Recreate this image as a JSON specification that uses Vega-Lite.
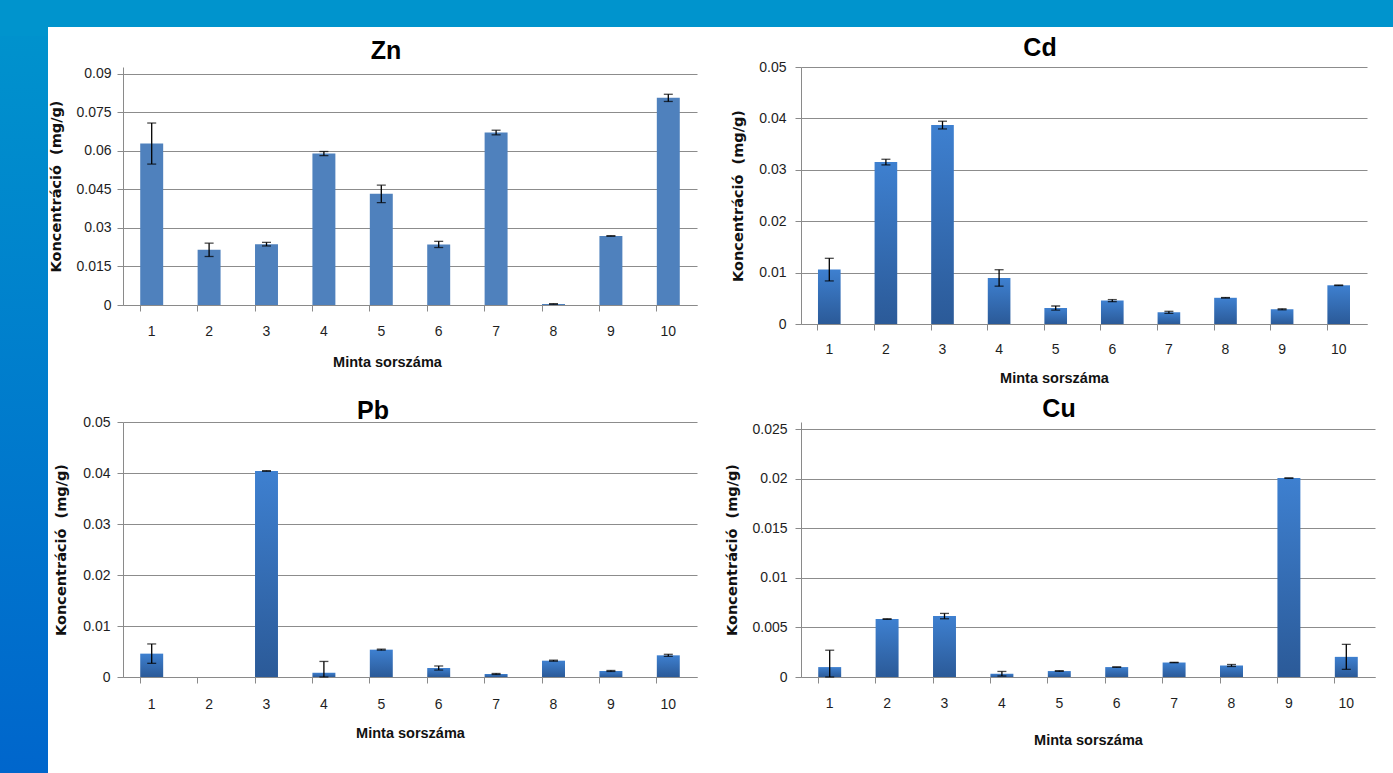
{
  "$schema": "https://vega.github.io/schema/vega-lite/v6.json",
  "padding": 0,
  "background": "white",
  "datasets": {
    "conc": [
      {"metal": "Zn", "n": 1, "v": 0.0629, "e": 0.008},
      {"metal": "Zn", "n": 2, "v": 0.0215, "e": 0.0026},
      {"metal": "Zn", "n": 3, "v": 0.0237, "e": 0.0007},
      {"metal": "Zn", "n": 4, "v": 0.059, "e": 0.0008},
      {"metal": "Zn", "n": 5, "v": 0.0433, "e": 0.0034},
      {"metal": "Zn", "n": 6, "v": 0.0236, "e": 0.0012},
      {"metal": "Zn", "n": 7, "v": 0.0672, "e": 0.0009},
      {"metal": "Zn", "n": 8, "v": 0.0004, "e": 0.0001},
      {"metal": "Zn", "n": 9, "v": 0.0269, "e": 0.0001},
      {"metal": "Zn", "n": 10, "v": 0.0807, "e": 0.0014},
      {"metal": "Cd", "n": 1, "v": 0.01058, "e": 0.0022},
      {"metal": "Cd", "n": 2, "v": 0.0315, "e": 0.00055},
      {"metal": "Cd", "n": 3, "v": 0.0387, "e": 0.00075},
      {"metal": "Cd", "n": 4, "v": 0.00896, "e": 0.0016},
      {"metal": "Cd", "n": 5, "v": 0.0031, "e": 0.0004},
      {"metal": "Cd", "n": 6, "v": 0.00455, "e": 0.0002},
      {"metal": "Cd", "n": 7, "v": 0.00227, "e": 0.0002},
      {"metal": "Cd", "n": 8, "v": 0.0051, "e": 0.00005},
      {"metal": "Cd", "n": 9, "v": 0.00286, "e": 0.0001},
      {"metal": "Cd", "n": 10, "v": 0.00753, "e": 0.00005},
      {"metal": "Pb", "n": 1, "v": 0.00458, "e": 0.0019},
      {"metal": "Pb", "n": 3, "v": 0.0404, "e": 0.00005},
      {"metal": "Pb", "n": 4, "v": 0.00085, "e": 0.0022},
      {"metal": "Pb", "n": 5, "v": 0.00536, "e": 0.0001},
      {"metal": "Pb", "n": 6, "v": 0.00176, "e": 0.0004},
      {"metal": "Pb", "n": 7, "v": 0.00059, "e": 0.0001},
      {"metal": "Pb", "n": 8, "v": 0.0032, "e": 0.0001},
      {"metal": "Pb", "n": 9, "v": 0.00118, "e": 0.0001},
      {"metal": "Pb", "n": 10, "v": 0.00425, "e": 0.0002},
      {"metal": "Cu", "n": 1, "v": 0.001, "e": 0.0017},
      {"metal": "Cu", "n": 2, "v": 0.00584, "e": 0.00003},
      {"metal": "Cu", "n": 3, "v": 0.00614, "e": 0.00027},
      {"metal": "Cu", "n": 4, "v": 0.00033, "e": 0.00023},
      {"metal": "Cu", "n": 5, "v": 0.0006, "e": 0.00004},
      {"metal": "Cu", "n": 6, "v": 0.001, "e": 0.00002},
      {"metal": "Cu", "n": 7, "v": 0.00146, "e": 0.00002},
      {"metal": "Cu", "n": 8, "v": 0.00116, "e": 0.0001},
      {"metal": "Cu", "n": 9, "v": 0.02005, "e": 0.00002},
      {"metal": "Cu", "n": 10, "v": 0.00203, "e": 0.00126}
    ],
    "strip": [{"k": 1}]
  },
  "columns": 2,
  "align": "none",
  "spacing": 0,
  "concat": [
    {
      "width": 48,
      "height": 36,
      "data": {"name": "strip"},
      "mark": {"type": "rect", "color": "#0094CD"},
      "encoding": {}
    },
    {
      "width": 1345,
      "height": 36,
      "data": {"name": "strip"},
      "mark": {
        "type": "rect",
        "color": {
          "gradient": "linear", "x1": 0, "y1": 0, "x2": 0, "y2": 1,
          "stops": [
            {"offset": 0, "color": "#0094CD"},
            {"offset": 0.75, "color": "#0094CD"},
            {"offset": 0.7501, "color": "#FFFFFF"},
            {"offset": 1, "color": "#FFFFFF"}
          ]
        }
      },
      "encoding": {}
    },
    {
      "width": 48,
      "height": 737,
      "data": {"name": "strip"},
      "mark": {
        "type": "rect",
        "color": {
          "gradient": "linear", "x1": 0, "y1": 0, "x2": 0, "y2": 1,
          "stops": [{"offset": 0, "color": "#0092CD"}, {"offset": 1, "color": "#0066CC"}]
        }
      },
      "encoding": {}
    },
    {
      "columns": 2,
      "align": "each",
      "spacing": {"row": 12, "column": 27},
      "concat": [
        {
          "width": 574,
          "height": 238,
          "title": {"text": "Zn", "offset": 3, "dx": -24},
          "data": {"name": "conc"},
          "transform": [{"filter": "datum.metal === 'Zn'"}],
          "encoding": {
            "x": {"field": "n", "type": "ordinal",
              "scale": {"domain": [1, 2, 3, 4, 5, 6, 7, 8, 9, 10], "paddingInner": 0.6, "paddingOuter": 0.3},
              "axis": {"title": "Minta sorszáma", "titlePadding": 17, "labelPadding": 13, "titleX": 264}},
            "y": {"field": "v", "type": "quantitative",
              "scale": {"domain": [0, 0.092727], "nice": false, "clamp": true},
              "axis": {"title": "Koncentráció \u00a0(mg/g)", "values": [0, 0.015, 0.03, 0.045, 0.06, 0.075, 0.09], "format": ".3~g", "titlePadding": 12.5, "labelPadding": 6}}
          },
          "layer": [
            {"mark": {"type": "bar", "color": "#4F81BD"}},
            {"mark": {"type": "errorbar", "color": "black", "size": 9, "thickness": 1.3, "ticks": true},
             "encoding": {"yError": {"field": "e"}}}
          ]
        },
        {
          "width": 566,
          "height": 257,
          "title": {"text": "Cd", "offset": -1, "dx": -44},
          "data": {"name": "conc"},
          "transform": [{"filter": "datum.metal === 'Cd'"}],
          "encoding": {
            "x": {"field": "n", "type": "ordinal",
              "scale": {"domain": [1, 2, 3, 4, 5, 6, 7, 8, 9, 10], "paddingInner": 0.6, "paddingOuter": 0.3},
              "axis": {"title": "Minta sorszáma", "titlePadding": 15, "labelPadding": 12, "titleX": 253}},
            "y": {"field": "v", "type": "quantitative",
              "scale": {"domain": [0, 0.05], "nice": false, "clamp": true},
              "axis": {"title": "Koncentráció \u00a0(mg/g)", "values": [0, 0.01, 0.02, 0.03, 0.04, 0.05], "format": ".3~g", "titlePadding": 13.5, "labelPadding": 9}}
          },
          "layer": [
            {"mark": {"type": "bar", "color": {
              "gradient": "linear", "x1": 0, "y1": 0, "x2": 0, "y2": 1,
              "stops": [{"offset": 0, "color": "#3E80D0"}, {"offset": 1, "color": "#2B5A98"}]}}},
            {"mark": {"type": "errorbar", "color": "black", "size": 9, "thickness": 1.3, "ticks": true},
             "encoding": {"yError": {"field": "e"}}}
          ]
        },
        {
          "width": 574,
          "height": 255,
          "title": {"text": "Pb", "offset": -9, "dx": -37},
          "data": {"name": "conc"},
          "transform": [{"filter": "datum.metal === 'Pb'"}],
          "encoding": {
            "x": {"field": "n", "type": "ordinal",
              "scale": {"domain": [1, 2, 3, 4, 5, 6, 7, 8, 9, 10], "paddingInner": 0.6, "paddingOuter": 0.3},
              "axis": {"title": "Minta sorszáma", "titlePadding": 15, "labelPadding": 14}},
            "y": {"field": "v", "type": "quantitative",
              "scale": {"domain": [0, 0.05], "nice": false, "clamp": true},
              "axis": {"title": "Koncentráció \u00a0(mg/g)", "values": [0, 0.01, 0.02, 0.03, 0.04, 0.05], "format": ".3~g", "titlePadding": 14.5, "labelPadding": 7}}
          },
          "layer": [
            {"mark": {"type": "bar", "color": {
              "gradient": "linear", "x1": 0, "y1": 0, "x2": 0, "y2": 1,
              "stops": [{"offset": 0, "color": "#3E80D0"}, {"offset": 1, "color": "#2B5A98"}]}}},
            {"mark": {"type": "errorbar", "color": "black", "size": 9, "thickness": 1.3, "ticks": true},
             "encoding": {"yError": {"field": "e"}}}
          ]
        },
        {
          "width": 574,
          "height": 255,
          "title": {"text": "Cu", "offset": 0, "dx": -29},
          "data": {"name": "conc"},
          "transform": [{"filter": "datum.metal === 'Cu'"}],
          "encoding": {
            "x": {"field": "n", "type": "ordinal",
              "scale": {"domain": [1, 2, 3, 4, 5, 6, 7, 8, 9, 10], "paddingInner": 0.6, "paddingOuter": 0.3},
              "axis": {"title": "Minta sorszáma", "titlePadding": 23, "labelPadding": 13}},
            "y": {"field": "v", "type": "quantitative",
              "scale": {"domain": [0, 0.025706], "nice": false, "clamp": true},
              "axis": {"title": "Koncentráció \u00a0(mg/g)", "values": [0, 0.005, 0.01, 0.015, 0.02, 0.025], "format": ".3~g", "titlePadding": 12.5, "labelPadding": 8}}
          },
          "layer": [
            {"mark": {"type": "bar", "color": {
              "gradient": "linear", "x1": 0, "y1": 0, "x2": 0, "y2": 1,
              "stops": [{"offset": 0, "color": "#3E80D0"}, {"offset": 1, "color": "#2B5A98"}]}}},
            {"mark": {"type": "errorbar", "color": "black", "size": 9, "thickness": 1.3, "ticks": true},
             "encoding": {"yError": {"field": "e"}}}
          ]
        }
      ]
    }
  ],
  "config": {
    "view": {"stroke": null},
    "axis": {
      "domainColor": "#8a8a8a",
      "tickColor": "#8a8a8a",
      "gridColor": "#8c8c8c",
      "gridWidth": 1.2,
      "tickSize": 6,
      "labelFont": "Liberation Sans",
      "labelFontSize": 14,
      "labelColor": "#1e1e1e",
      "titleColor": "#111111"
    },
    "axisX": {
      "bandPosition": 0,
      "labelAngle": 0,
      "grid": false,
      "titleFont": "Liberation Sans",
      "titleFontSize": 14.5,
      "titleFontWeight": "bold"
    },
    "axisY": {
      "grid": true,
      "titleFont": "DejaVu Sans",
      "titleFontSize": 14.5,
      "titleFontWeight": "bold"
    },
    "title": {
      "font": "Liberation Sans",
      "fontSize": 25,
      "fontWeight": "bold",
      "color": "#000000"
    }
  }
}
